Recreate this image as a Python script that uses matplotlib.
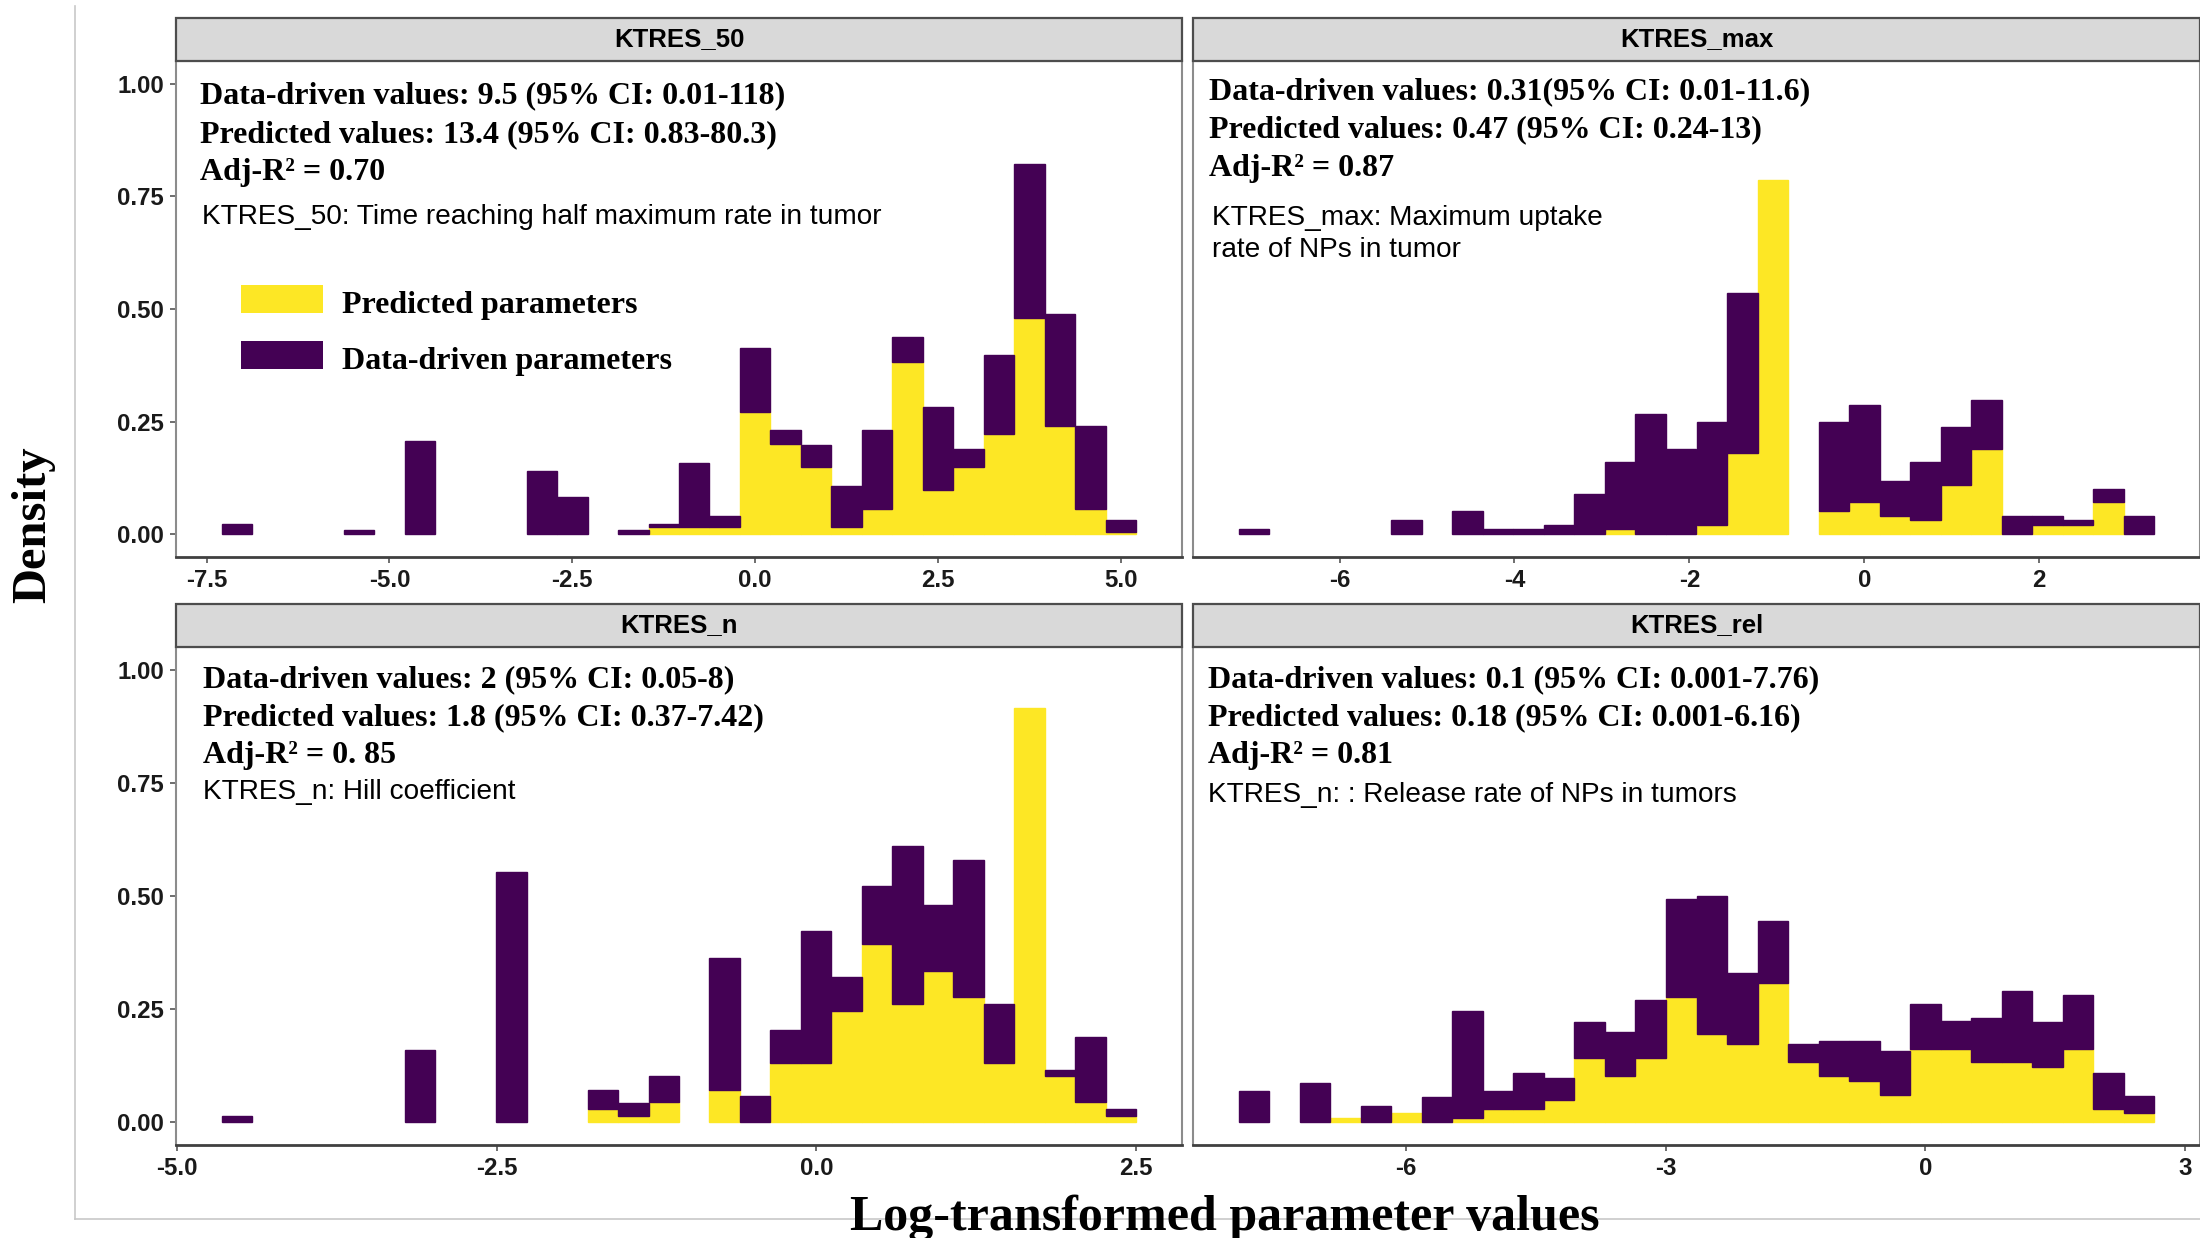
import numpy as np
import matplotlib
matplotlib.use("Agg")
from matplotlib import pyplot as plt
from matplotlib.patches import Rectangle
from matplotlib.lines import Line2D

plt.rcParams['axes.unicode_minus'] = False

W, H = 2200, 1238
yellow = '#FDE725'
purple = '#440154'

# ---- data (density per bin, 30 bins per panel) ----
titles = ["KTRES_50", "KTRES_max", "KTRES_n", "KTRES_rel"]
bin_start = [-7.292, -7.153, -4.648, -7.936]
bin_width = [0.4167, 0.349, 0.2383, 0.3527]

# predicted parameters (yellow, bottom of stack)
pred_50 = [0, 0, 0, 0, 0, 0, 0, 0, 0, 0, 0, 0, 0, 0, 0.017, 0.017, 0.017, 0.272, 0.200, 0.149,
           0.017, 0.057, 0.382, 0.099, 0.149, 0.223, 0.480, 0.240, 0.057, 0.006]
pred_max = [0, 0, 0, 0, 0, 0, 0, 0, 0, 0, 0, 0, 0.011, 0, 0, 0.021, 0.180, 0.785, 0, 0.051,
            0.071, 0.040, 0.031, 0.110, 0.190, 0, 0.021, 0.021, 0.071, 0]
pred_n = [0, 0, 0, 0, 0, 0, 0, 0, 0, 0, 0, 0, 0.030, 0.015, 0.044, 0, 0.072, 0, 0.132, 0.132,
          0.247, 0.393, 0.261, 0.335, 0.277, 0.132, 0.916, 0.102, 0.044, 0.015]
pred_rel = [0, 0, 0, 0.010, 0, 0.020, 0, 0.010, 0.030, 0.030, 0.050, 0.142, 0.102, 0.142, 0.277,
            0.195, 0.174, 0.307, 0.133, 0.102, 0.091, 0.061, 0.163, 0.163, 0.133, 0.133, 0.123,
            0.163, 0.030, 0.020]

# data-driven parameters (purple, stacked on top)
data_50 = [0.024, 0, 0, 0, 0.009, 0, 0.207, 0, 0, 0, 0.141, 0.082, 0, 0.009, 0.007, 0.141, 0.023,
           0.142, 0.032, 0.050, 0.090, 0.175, 0.057, 0.183, 0.041, 0.174, 0.341, 0.249, 0.183, 0.026]
data_max = [0.011, 0, 0, 0, 0, 0.031, 0, 0.051, 0.011, 0.011, 0.020, 0.090, 0.150, 0.268, 0.190,
            0.228, 0.356, 0, 0, 0.198, 0.217, 0.079, 0.130, 0.129, 0.108, 0.040, 0.019, 0.010,
            0.030, 0.040]
data_n = [0.015, 0, 0, 0, 0, 0, 0.159, 0, 0, 0.553, 0, 0, 0.042, 0.027, 0.058, 0, 0.291, 0.059,
          0.072, 0.290, 0.073, 0.130, 0.350, 0.145, 0.303, 0.129, 0, 0.013, 0.145, 0.014]
data_rel = [0.069, 0, 0.087, 0, 0.037, 0, 0.057, 0.235, 0.040, 0.080, 0.048, 0.079, 0.097, 0.128,
            0.216, 0.304, 0.157, 0.138, 0.040, 0.078, 0.089, 0.097, 0.098, 0.060, 0.098, 0.157,
            0.098, 0.119, 0.080, 0.039]

preds = [pred_50, pred_max, pred_n, pred_rel]
datas = [data_50, data_max, data_n, data_rel]

xticks = [[-7.5, -5.0, -2.5, 0.0, 2.5, 5.0], [-6, -4, -2, 0, 2],
          [-5.0, -2.5, 0.0, 2.5], [-6, -3, 0, 3]]
xfmt = ['%.1f', '%d', '%.1f', '%d']
yticks = [0.0, 0.25, 0.5, 0.75, 1.0]

ann = [
    ["Data-driven values: 9.5 (95% CI: 0.01-118)",
     "Predicted values: 13.4 (95% CI: 0.83-80.3)",
     "Adj-R\u00b2 = 0.70"],
    ["Data-driven values: 0.31(95% CI: 0.01-11.6)",
     "Predicted values: 0.47 (95% CI: 0.24-13)",
     "Adj-R\u00b2 = 0.87"],
    ["Data-driven values: 2 (95% CI: 0.05-8)",
     "Predicted values: 1.8 (95% CI: 0.37-7.42)",
     "Adj-R\u00b2 = 0. 85"],
    ["Data-driven values: 0.1 (95% CI: 0.001-7.76)",
     "Predicted values: 0.18 (95% CI: 0.001-6.16)",
     "Adj-R\u00b2 = 0.81"],
]
desc = [["KTRES_50: Time reaching half maximum rate in tumor"],
        ["KTRES_max: Maximum uptake", "rate of NPs in tumor"],
        ["KTRES_n: Hill coefficient"],
        ["KTRES_n: : Release rate of NPs in tumors"]]

# ---- layout (pixels) ----
# (left, right, strip top, strip bottom / panel top, panel bottom)
boxes = [(176, 1182, 18, 61, 557), (1193, 2200, 18, 61, 557),
         (176, 1182, 604, 647, 1145), (1193, 2200, 604, 647, 1145)]
ann_x = [200, 1209, 203, 1208]
ann_base = [[103, 142, 180], [99, 137, 176], [687, 725, 763], [687, 725, 763]]
desc_x = [202, 1212, 203, 1208]
desc_base = [[224], [225, 257], [799], [802]]

serif = 'Liberation Serif'
sans = 'Liberation Sans'


def fx(x):
    return x / W


def fy(y):
    return 1 - y / H


fig = plt.figure(figsize=(W / 100, H / 100), dpi=100)

# outer light frame
fig.add_artist(Line2D([fx(75), fx(75)], [fy(6), fy(1219)], color='#c8c8c8', lw=1.2))
fig.add_artist(Line2D([fx(75), fx(2200)], [fy(1219), fy(1219)], color='#c8c8c8', lw=1.2))

for i in range(4):
    l, r, st, t, b = boxes[i]
    ax = fig.add_axes([fx(l), fy(b), (r - l) / W, (b - t) / H])
    w = bin_width[i]
    left = bin_start[i] + w * np.arange(len(preds[i]))
    p = np.array(preds[i])
    d = np.array(datas[i])
    # thin same-colour edges hide seams; empty bins get no edge
    ec_p = [yellow if v > 0 else 'none' for v in p]
    ec_d = [purple if v > 0 else 'none' for v in d]
    ax.bar(left, p, width=w, align='edge', color=yellow, edgecolor=ec_p, linewidth=1.0)
    ax.bar(left, d, bottom=p, width=w, align='edge', color=purple, edgecolor=ec_d, linewidth=1.0)
    lo, hi = left[0], left[-1] + w
    pad = 0.05 * (hi - lo)
    ax.set_xlim(lo - pad, hi + pad)
    ax.set_ylim(-0.05, 1.05)
    ax.set_xticks(xticks[i])
    ax.set_xticklabels([xfmt[i] % v for v in xticks[i]], fontsize=17.3,
                       fontweight='bold', family=sans, color='#1a1a1a')
    if i % 2 == 0:
        ax.set_yticks(yticks)
        ax.set_yticklabels(['%.2f' % v for v in yticks], fontsize=17.3,
                           fontweight='bold', family=sans, color='#1a1a1a')
    else:
        ax.set_yticks([])
    ax.tick_params(length=4, width=1.2, color='#555555', pad=4.5)
    for s in ['top', 'right', 'left']:
        ax.spines[s].set_color('#8c8c8c')
        ax.spines[s].set_linewidth(1.5)
    ax.spines['bottom'].set_color('#404040')
    ax.spines['bottom'].set_linewidth(2)

    # facet strip
    fig.add_artist(Rectangle((fx(l), fy(t)), (r - l) / W, (t - st) / H,
                             facecolor='#d9d9d9', edgecolor='#4d4d4d', lw=1.6))
    fig.text(fx((l + r) / 2), fy((st + t) / 2), titles[i], ha='center', va='center',
             fontsize=18.5, fontweight='bold', family=sans)

    for txt, yb in zip(ann[i], ann_base[i]):
        fig.text(fx(ann_x[i]), fy(yb), txt, ha='left', va='baseline',
                 fontsize=23, fontweight='bold', family=serif)
    for txt, yb in zip(desc[i], desc_base[i]):
        fig.text(fx(desc_x[i]), fy(yb), txt, ha='left', va='baseline',
                 fontsize=20.2, family=sans)

# legend inside first panel
fig.add_artist(Rectangle((fx(241), fy(313)), 82 / W, 28 / H, facecolor=yellow, edgecolor='none'))
fig.add_artist(Rectangle((fx(241), fy(369)), 82 / W, 28 / H, facecolor=purple, edgecolor='none'))
fig.text(fx(342), fy(313), "Predicted parameters", ha='left', va='baseline',
         fontsize=23, fontweight='bold', family=serif)
fig.text(fx(342), fy(369), "Data-driven parameters", ha='left', va='baseline',
         fontsize=23, fontweight='bold', family=serif)

# axis titles
fig.text(fx(33), fy(525), "Density", rotation=90, ha='center', va='center',
         fontsize=35, fontweight='bold', family=serif)
fig.text(fx(1225), fy(1230), "Log-transformed parameter values", ha='center', va='baseline',
         fontsize=36, fontweight='bold', family=serif)

fig.savefig("out.png", dpi=100)
